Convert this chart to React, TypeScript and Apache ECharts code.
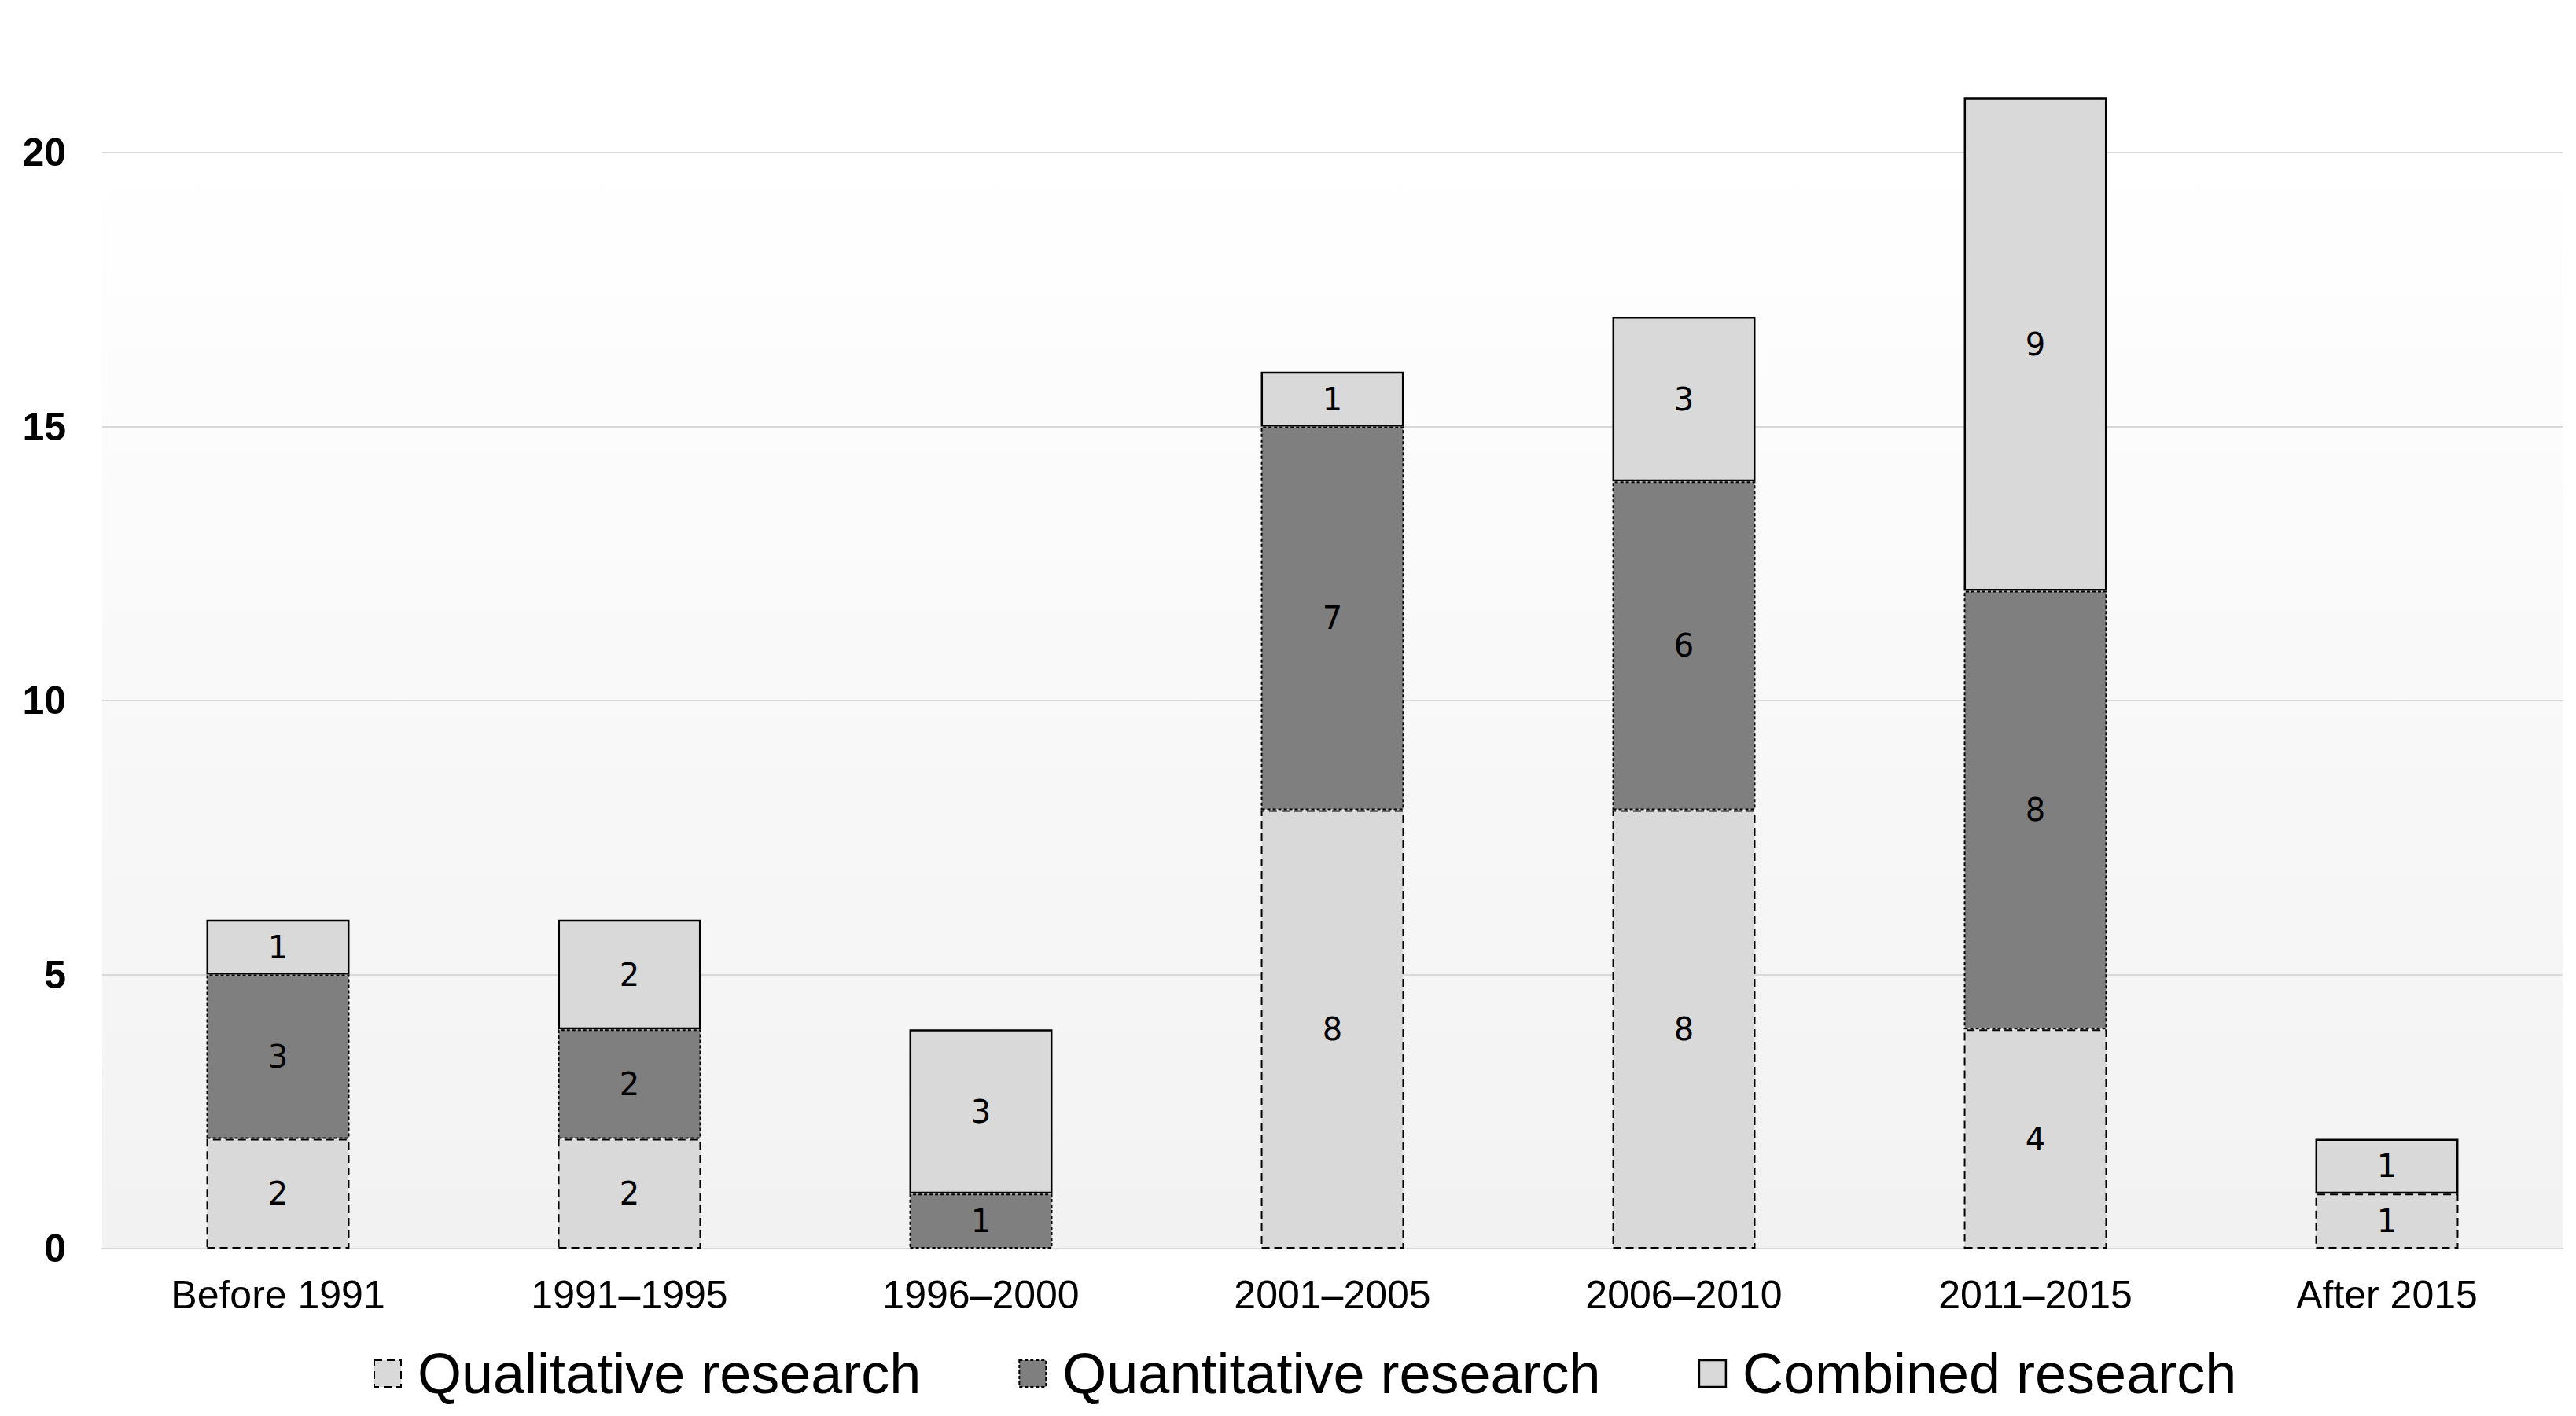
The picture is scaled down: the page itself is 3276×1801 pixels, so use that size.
import React, { useEffect, useRef } from "react";
import * as echarts from "echarts";

const categories = ["Before 1991", "1991–1995", "1996–2000", "2001–2005", "2006–2010", "2011–2015", "After 2015"];
const qualitative = [2, 2, 0, 8, 8, 4, 1];
const quantitative = [3, 2, 1, 7, 6, 8, 0];
const combined = [1, 2, 3, 1, 3, 9, 1];
const seriesNames = ["Qualitative research", "Quantitative research", "Combined research"];

const toData = (arr: number[]) => arr.map((v) => (v === 0 ? "-" : v));

export default function App() {
  const ref = useRef<HTMLDivElement>(null);
  useEffect(() => {
    if (!ref.current) return;
    const chart = echarts.init(ref.current, null, { renderer: "svg" });
    const label = {
      show: true,
      position: "inside",
      color: "#000",
      fontSize: 40,
      fontFamily: "DejaVu Sans",
    };
    const styles = [
      { color: "#d9d9d9", borderColor: "#000", borderWidth: 2, borderType: [10, 6] },
      { color: "#7f7f7f", borderColor: "#000", borderWidth: 2, borderType: [4, 3] },
      { color: "#d9d9d9", borderColor: "#000", borderWidth: 2.5, borderType: "solid" },
    ];
    const dataSets = [qualitative, quantitative, combined];
    chart.setOption({
      animation: false,
      grid: {
        left: 130,
        right: 17,
        top: 194,
        bottom: 213,
        show: true,
        borderWidth: 0,
        backgroundColor: new echarts.graphic.LinearGradient(0, 0, 0, 1, [
          { offset: 0, color: "#ffffff" },
          { offset: 1, color: "#f2f2f2" },
        ]),
      },
      legend: {
        left: 470,
        top: 1706,
        itemWidth: 34,
        itemHeight: 34,
        itemGap: 124,
        icon: "rect",
        textStyle: { fontSize: 72, fontFamily: "Liberation Sans, Arial", color: "#000", padding: [0, 0, 0, 16] },
        data: seriesNames.map((n, i) => ({ name: n, itemStyle: styles[i] })),
      },
      xAxis: {
        type: "category",
        data: categories,
        axisLine: { show: true, lineStyle: { color: "#d9d9d9", width: 2 } },
        axisTick: { show: false },
        axisLabel: { fontSize: 50, fontFamily: "Liberation Sans, Arial", color: "#000", margin: 34 },
      },
      yAxis: {
        type: "value",
        min: 0,
        max: 20,
        interval: 5,
        axisLine: { show: false },
        axisTick: { show: false },
        splitLine: { lineStyle: { color: "#d9d9d9", width: 2 } },
        axisLabel: { fontSize: 50, fontWeight: "bold", fontFamily: "Liberation Sans, Arial", color: "#000", margin: 46 },
      },
      series: seriesNames.map((n, i) => ({
        name: n,
        type: "bar",
        stack: "total",
        barWidth: "40.7%",
        clip: false,
        data: toData(dataSets[i]),
        itemStyle: styles[i],
        label,
      })),
    });
    return () => chart.dispose();
  }, []);
  return <div ref={ref} style={{ position: "fixed", left: 0, top: 0, width: 3276, height: 1801, background: "#fff" }} />;
}
